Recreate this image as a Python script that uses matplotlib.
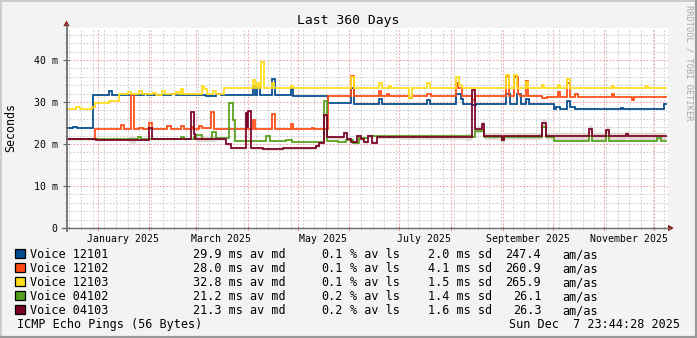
import matplotlib
matplotlib.use("Agg")
import matplotlib.pyplot as plt
import matplotlib.dates as mdates
from matplotlib.patches import Rectangle, Polygon
from matplotlib.lines import Line2D
from matplotlib.ticker import NullFormatter, FuncFormatter
from matplotlib.transforms import blended_transform_factory
from datetime import datetime, timedelta
import numpy as np

MONO = "DejaVu Sans Mono"
plt.rcParams["font.family"] = MONO

# ---- data: median RTT per target, as step breakpoints (days since start, ms) ----
blue_days = [0, 4.2, 6.6, 16.2, 26.0, 27.6, 46.8, 48.6, 63, 66, 84, 90, 93, 112.2, 113.4, 114.6, 116.4,
             123.6, 125.4, 135, 136.2, 157.2, 171, 172.8, 187.8, 189.6, 216.6, 218.4, 234, 237, 238.2,
             243.6, 246, 264, 266.4, 270.6, 273, 276, 277.8, 292.8, 294, 296.4, 300.6, 302.4, 305.4,
             333, 334.2, 358.8]
blue_ms = [23.7, 24.0, 23.7, 31.6, 32.5, 31.6, 32.0, 31.6, 31.9, 31.6, 31.4, 31.8, 31.6, 33.8, 31.6, 33.3, 31.6,
           35.4, 31.6, 33.0, 31.4, 29.7, 33.3, 29.6, 30.6, 29.6, 30.4, 29.6, 31.9, 30.8, 29.6,
           29.2, 29.6, 31.9, 29.6, 32.0, 29.6, 30.8, 29.5, 28.3, 28.9, 28.3, 30.2, 28.9, 28.3,
           28.6, 28.3, 29.5]

orange_days = [0, 17.4, 33, 34.8, 39, 41, 44, 46, 49.8, 51.4, 60.6, 63, 69, 70.8, 75.6, 76.8, 79.8, 81.6,
               87, 89, 112.2, 113.4, 123.6, 125.4, 135, 136.2, 147.6, 148.8, 157.2, 171, 172.8, 187.8,
               189, 192.6, 193.8, 205.8, 207.6, 216.6, 219, 234, 235.2, 237.6, 243.6, 245.4, 264, 266,
               269, 271, 272.5, 276, 277.2, 285.6, 288.6, 295, 296.4, 300.6, 302.4, 305.4, 307.2,
               327.6, 328.8, 339.6, 340.8]
orange_ms = [21.3, 23.5, 24.6, 23.5, 32.0, 23.6, 23.9, 23.6, 25.0, 23.5, 24.3, 23.5, 24.3, 23.5, 24.1, 23.5, 24.2, 23.7,
             27.6, 23.5, 25.8, 23.5, 27.2, 23.5, 24.8, 23.5, 23.8, 23.5, 31.3, 36.2, 31.3, 32.6,
             31.3, 31.9, 31.3, 30.9, 31.3, 32.0, 31.3, 34.5, 33.3, 31.3, 30.4, 31.3, 36.2, 31.3,
             36.0, 32.0, 31.3, 35.0, 31.3, 30.9, 31.1, 32.4, 31.1, 34.6, 31.1, 31.8, 31.1,
             32.0, 31.1, 30.5, 31.1]

yellow_days = [0, 6, 8.4, 15.6, 17.4, 25.8, 31.8, 37, 39, 43.8, 45.6, 52, 54, 57.6, 59.4, 66, 68, 69, 70.2,
               81.6, 82.8, 84.6, 88.2, 90, 94.8, 112.2, 113.4, 114.6, 115.8, 117, 118.8, 123.6, 125,
               135, 136.2, 171, 172.8, 187.8, 189.6, 193.8, 195, 205.8, 207.6, 216.6, 218.4, 234, 236,
               237.6, 264, 265.8, 268.8, 270.6, 276, 277.2, 285.6, 287, 295, 296.4, 300.6, 302.4,
               327.6, 328.8, 348, 349]
yellow_ms = [28.4, 28.8, 28.4, 28.9, 29.8, 30.2, 31.9, 32.3, 31.9, 32.5, 31.9, 32.2, 31.7, 32.5, 31.9, 32.3, 31.9, 33.0, 31.9,
             33.9, 33.0, 31.9, 32.5, 31.9, 33.3, 35.2, 33.3, 34.4, 33.3, 39.6, 33.3, 34.4, 33.3,
             33.8, 33.3, 36.0, 33.3, 34.5, 33.3, 33.8, 33.3, 30.9, 33.3, 34.5, 33.3, 36.0, 34.0,
             33.3, 36.3, 33.3, 36.3, 33.3, 34.8, 33.3, 34.0, 33.3, 34.0, 33.3, 35.4, 33.3,
             33.8, 33.3, 33.7, 33.3]

green_days = [0, 43, 45, 69, 71, 76.8, 78, 81.6, 87.6, 90, 97.8, 100.2, 101.4, 120, 122.4, 132, 135.6,
              154.8, 156.6, 163, 168, 172, 176, 181, 243.6, 245.4, 250.8, 261.6, 262.8, 285.6, 288,
              292.8, 313.8, 315.6, 324, 325.8, 354.6, 357]
green_ms = [21.3, 21.6, 21.3, 21.7, 21.3, 21.6, 22.1, 21.3, 22.9, 21.4, 29.8, 25.7, 20.6, 21.9, 20.6, 20.9, 20.4,
            30.3, 20.8, 20.5, 20.9, 20.3, 21.4, 21.8, 21.7, 23.0, 21.7, 20.9, 21.7, 24.0, 21.7,
            20.6, 21.9, 20.6, 21.9, 20.6, 21.4, 20.6]

darkred_days = [0, 18, 49.8, 51.6, 75, 76.8, 77.4, 96, 99, 108, 108.8, 109.4, 111, 118, 130, 150, 152,
                154.8, 156.6, 167, 168.6, 171, 174.6, 177, 179, 181, 183.6, 186.6, 243.6, 245.4, 249.6,
                250.8, 261.6, 262.8, 285.6, 288, 313.8, 315.6, 324, 325.8, 336, 337.2]
darkred_ms = [21.1, 21.0, 23.7, 21.2, 27.6, 22.4, 21.2, 19.9, 19.1, 27.3, 24.0, 27.8, 19.0, 18.8, 19.0, 19.6, 20.2,
              27.0, 21.6, 22.7, 21.2, 20.4, 21.9, 21.2, 20.4, 21.9, 20.3, 21.7, 32.8, 23.5, 24.7,
              21.9, 20.9, 21.9, 25.1, 21.9, 23.6, 21.9, 23.4, 21.9, 22.3, 21.9]

# spread of the ping smoke around the 04103 median (days since start, ms)
smoke_days = [0, 38, 42, 78, 90, 150, 160, 200, 240, 292]
smoke_spread = [0.2, 0.8, 0.2, 0.6, 0.3, 0.4, 0.4, 0.6, 0.8, 0.9]

# ---- legend / summary values ----
target_names = ["Voice 12101", "Voice 12102", "Voice 12103", "Voice 04102", "Voice 04103"]
target_colors = ["#004b8d", "#ff4a12", "#ffdd1a", "#54a019", "#7a0026"]
avg_median_ms = [29.9, 28.0, 32.8, 21.2, 21.3]
avg_loss_pct = [0.1, 0.1, 0.1, 0.2, 0.2]
avg_sd_ms = [2.0, 4.1, 1.5, 1.4, 1.6]
am_as = [247.4, 260.9, 265.9, 26.1, 26.3]

y_major = [0, 10, 20, 30, 40]
month_labels = [(2025, 1), (2025, 3), (2025, 5), (2025, 7), (2025, 9), (2025, 11)]

series = [(blue_days, blue_ms), (orange_days, orange_ms), (yellow_days, yellow_ms),
          (green_days, green_ms), (darkred_days, darkred_ms)]
for d, v in series:
    assert len(d) == len(v)

# ---- figure layout (pixel based) ----
W, H = 697, 338
fig = plt.figure(figsize=(W / 100, H / 100), dpi=100)
fig.patch.set_facecolor("#f3f3f3")


def fx(px):
    return px / W


def fy(py):
    return 1 - py / H


X0, X1, Y0, Y1 = 66, 668, 28, 228
ax = fig.add_axes([fx(X0), fy(Y1), (X1 - X0) / W, (Y1 - Y0) / H])
ax.set_facecolor("white")
for s in ax.spines.values():
    s.set_visible(False)

end = datetime(2025, 12, 7, 23, 44, 28)
start = end - timedelta(days=360)
t0 = mdates.date2num(start)
ax.set_xlim(t0, t0 + 361.2)
ax.set_ylim(0, 47.6)

grid_grey = "#cdcdcd"
grid_red = "#f0a4a4"
dots = (0, (1.6, 1.6))

ax.set_yticks(y_major)
ax.set_yticks(np.arange(0, 48, 2), minor=True)
ax.yaxis.set_major_formatter(FuncFormatter(lambda v, p: "0" if v == 0 else f"{int(v)} m"))
ax.yaxis.grid(True, which="minor", color=grid_grey, linestyle=dots, lw=0.75)
ax.yaxis.grid(True, which="major", color=grid_red, linestyle=dots, lw=0.75)

ax.xaxis.set_major_locator(mdates.MonthLocator())
ax.xaxis.set_minor_locator(mdates.WeekdayLocator(byweekday=mdates.SU))
ax.xaxis.set_major_formatter(NullFormatter())
ax.xaxis.set_minor_formatter(NullFormatter())
ax.xaxis.grid(True, which="minor", color=grid_grey, linestyle=dots, lw=0.75)
ax.xaxis.grid(True, which="major", color=grid_red, linestyle=dots, lw=0.75)
ax.set_axisbelow(True)

ax.tick_params(axis="y", which="major", length=4, width=0.8, direction="inout",
               color="#606060", pad=4, labelsize=7.1)
ax.tick_params(axis="y", which="minor", length=2, width=0.6, direction="inout", color="#909090")
ax.tick_params(axis="x", which="major", length=3, width=0.8, direction="inout", color="#e07070")
ax.tick_params(axis="x", which="minor", length=2, width=0.6, direction="inout", color="#909090")

# month labels centred in the middle of each labelled month
trans = blended_transform_factory(ax.transData, fig.transFigure)
for yy, mm in month_labels:
    mid = datetime(yy, mm, 16)
    ax.text(mdates.date2num(mid), fy(241.5), mid.strftime("%B %Y"), transform=trans,
            ha="center", va="baseline", fontsize=7.1)

# ---- smoke under the 04103 line ----
sd_x = t0 + np.append(np.asarray(smoke_days, float), 360.0)
sd_s = np.append(np.asarray(smoke_spread, float), smoke_spread[-1])
dr_x = t0 + np.append(np.asarray(darkred_days, float), 360.0)
dr_y = np.append(np.asarray(darkred_ms, float), darkred_ms[-1])
fine = np.linspace(t0, t0 + 360, 1801)
med = dr_y[np.clip(np.searchsorted(dr_x, fine, side="right") - 1, 0, len(dr_y) - 1)]
spr = sd_s[np.clip(np.searchsorted(sd_x, fine, side="right") - 1, 0, len(sd_s) - 1)]
ax.fill_between(fine, med - spr, med + spr, color="#d9cec6", lw=0, alpha=0.8, zorder=1.5)

# ---- median lines ----
for (d, v), c in zip(series, target_colors):
    xs = t0 + np.append(np.asarray(d, float), 360.0)
    ys = np.append(np.asarray(v, float), v[-1])
    ax.step(xs, ys, where="post", color=c, lw=1.25, solid_joinstyle="miter", zorder=2)

# ---- axes lines with arrow heads ----
axis_col = "#6e6e6e"
arrow_col = "#8a1c1c"
fig.add_artist(Line2D([fx(66.5), fx(66.5)], [fy(231), fy(25)], color=axis_col, lw=1.3))
fig.add_artist(Line2D([fx(62), fx(669)], [fy(228), fy(228)], color=axis_col, lw=1.0))
fig.add_artist(Polygon([[fx(63.3), fy(26.2)], [fx(69.7), fy(26.2)], [fx(66.5), fy(20.5)]],
                       closed=True, facecolor=arrow_col, edgecolor="none", transform=fig.transFigure))
fig.add_artist(Polygon([[fx(668), fy(224.8)], [fx(668), fy(231.2)], [fx(673.8), fy(228)]],
                       closed=True, facecolor=arrow_col, edgecolor="none", transform=fig.transFigure))

# ---- titles ----
fig.text(fx(348), fy(24), "Last 360 Days", ha="center", va="baseline", fontsize=9.4)
fig.text(fx(11), fy(128), "Seconds", rotation=90, ha="center", va="center", fontsize=8.4)
fig.text(fx(688.5), fy(5), "RRDTOOL / TOBI OETIKER", rotation=270, ha="center", va="top",
         fontsize=6.2, color="#a8a8a8")

# ---- legend: one text item per printed field, on a 7.1 px character grid ----
LEG = 8.5
CW = 7.1
COL0 = 193.3
for i, name in enumerate(target_names):
    base = 258.3 + 14 * i
    fig.add_artist(Rectangle((fx(15), fy(base)), 9.5 / W, 9.5 / H, facecolor=target_colors[i],
                             edgecolor="black", lw=0.9, transform=fig.transFigure))
    kw = dict(va="baseline", fontsize=LEG)
    fig.text(fx(30), fy(base), name, **kw)
    fig.text(fx(COL0), fy(base), f"{avg_median_ms[i]:.1f} ms av md", **kw)
    fig.text(fx(COL0 + 18 * CW), fy(base), f"{avg_loss_pct[i]:.1f}", **kw)
    fig.text(fx(COL0 + 22 * CW), fy(base), "% av ls", **kw)
    fig.text(fx(COL0 + 33 * CW), fy(base), f"{avg_sd_ms[i]:.1f} ms sd", **kw)
    fig.text(fx(COL0 + 49 * CW), fy(base), f"{am_as[i]:.1f}", ha="right", **kw)
    fig.text(fx(COL0 + 52 * CW), fy(base), "am/as", **kw)

fig.text(fx(16.7), fy(328.3), "ICMP Echo Pings (56 Bytes)", va="baseline", fontsize=LEG)
fig.text(fx(680), fy(328.3), "Sun Dec  7 23:44:28 2025", ha="right", va="baseline", fontsize=LEG)

# ---- frame shading ----
fig.add_artist(Line2D([0, 1], [fy(0.5), fy(0.5)], color="#cbcbcb", lw=1.4))
fig.add_artist(Line2D([fx(0.5), fx(0.5)], [0, 1], color="#cbcbcb", lw=1.4))
fig.add_artist(Line2D([0, 1], [fy(337), fy(337)], color="#999999", lw=1.6))
fig.add_artist(Line2D([fx(696), fx(696)], [0, 1], color="#999999", lw=1.6))

fig.savefig("out.png", dpi=100, facecolor=fig.get_facecolor())
